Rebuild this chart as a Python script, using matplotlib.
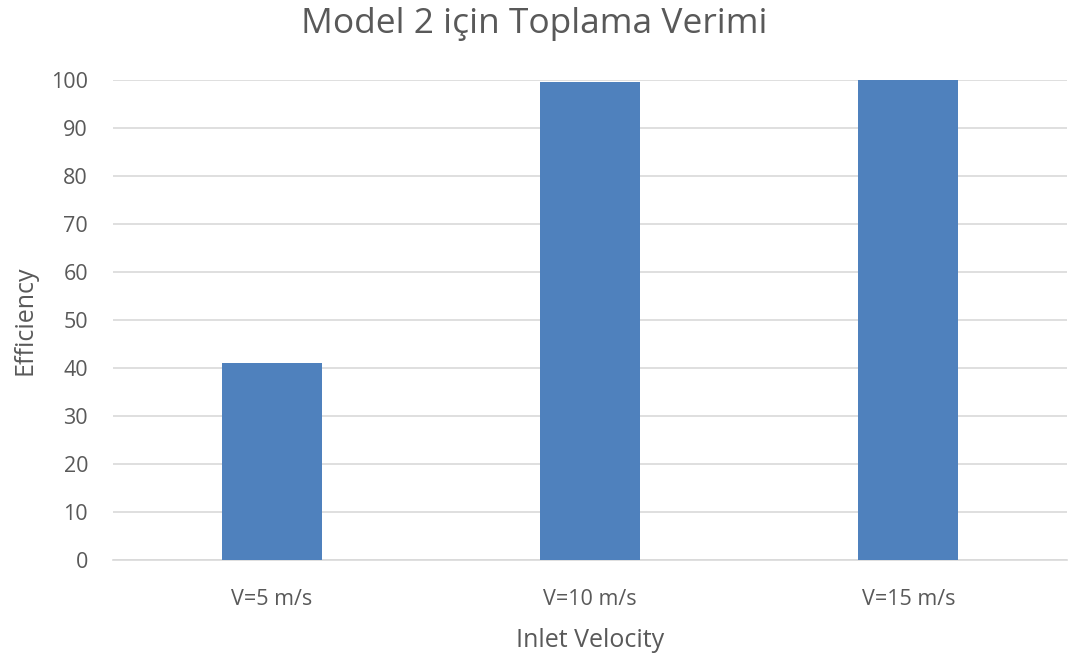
import matplotlib.pyplot as plt
import numpy as np

plt.rcParams['font.family'] = ['Open Sans', 'DejaVu Sans']

categories = ['V=5 m/s', 'V=10 m/s', 'V=15 m/s']
efficiency = [41, 99.5, 100]
yticks = [0, 10, 20, 30, 40, 50, 60, 70, 80, 90, 100]

text_color = '#595959'
grid_color = '#D9D9D9'
bar_color = '#4F81BD'

fig = plt.figure(figsize=(10.77, 6.59), dpi=100)
ax = fig.add_axes([0.105, 0.150, 0.886, 0.729])

x = np.arange(len(categories))
ax.bar(x, efficiency, width=0.314, color=bar_color, zorder=3)

ax.set_xlim(-0.5, len(categories) - 0.5)
ax.set_ylim(0, 100)
ax.set_yticks(yticks)
ax.set_xticks(x)
ax.set_xticklabels(categories)

ax.grid(axis='y', color=grid_color, linewidth=1.2, zorder=0)
for side in ['top', 'right', 'left']:
    ax.spines[side].set_visible(False)
ax.spines['bottom'].set_color(grid_color)
ax.spines['bottom'].set_linewidth(1.2)
ax.tick_params(length=0, colors=text_color, labelsize=15.5)
ax.tick_params(axis='y', pad=18)
ax.tick_params(axis='x', pad=21)

ax.set_xlabel('Inlet Velocity', fontsize=18, color=text_color, labelpad=13)
ax.set_ylabel('Efficiency', fontsize=18, color=text_color, labelpad=10)
ax.set_title('Model 2 için Toplama Verimi', fontsize=25.5, color=text_color,
             pad=34, x=0.441)

fig.savefig('out.png', dpi=100)
